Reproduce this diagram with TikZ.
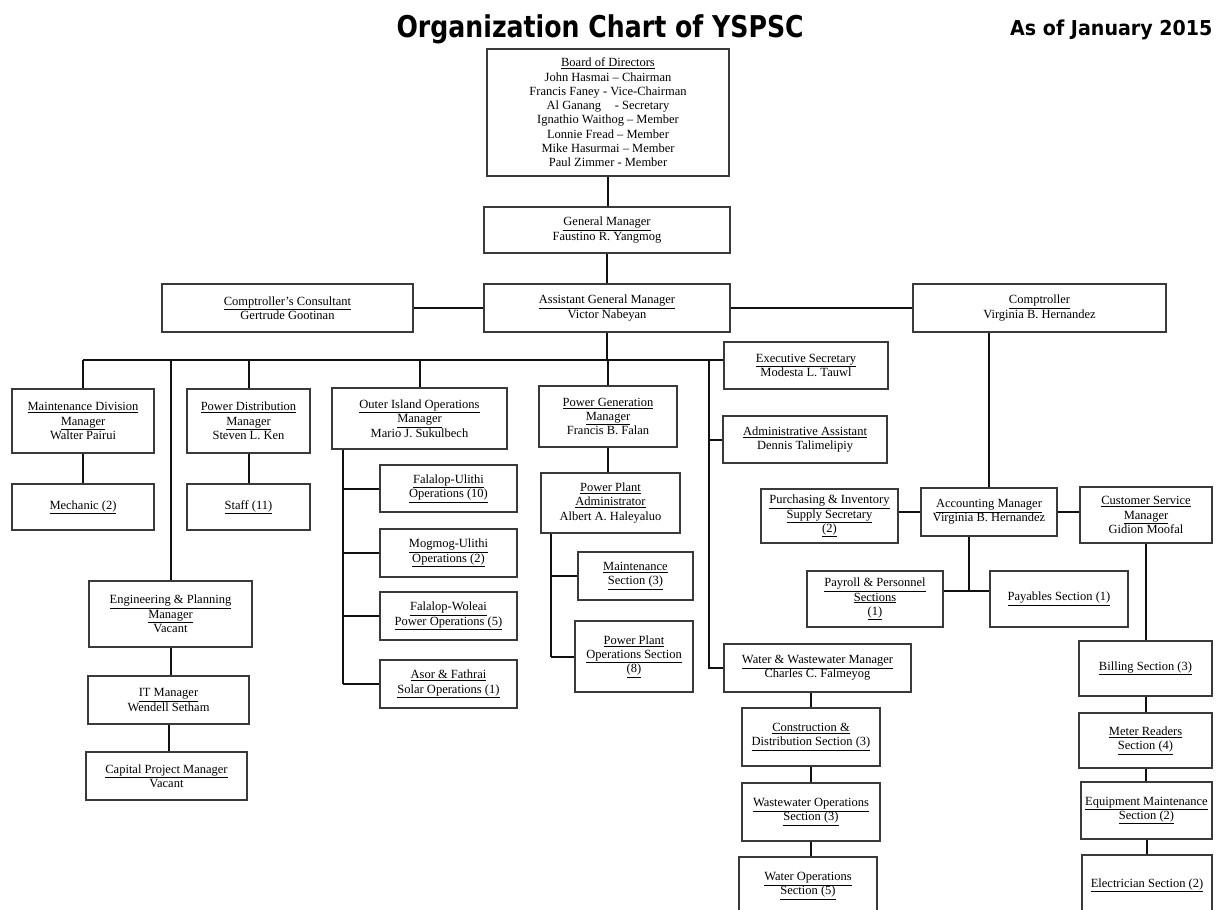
\documentclass[tikz,border=0pt]{standalone}
\usepackage{fontspec}
\usepackage{xcolor}
\usepackage{tikz}
\usetikzlibrary{positioning,calc}
\setmainfont{Liberation Serif}
\setsansfont{DejaVu Sans}
\newfontfamily\titlefont{DejaVu Sans}[FakeStretch=0.84]
\newfontfamily\datefont{DejaVu Sans}[FakeStretch=0.93]
\definecolor{BoxEdge}{HTML}{3A3A3A}
\definecolor{LinkDark}{HTML}{111111}
\newcommand{\hd}[1]{\underline{#1}}

\begin{document}
\begin{tikzpicture}[x=1pt, y=-1pt,
    orgbox/.style={draw=BoxEdge, line width=1.2pt, align=center, inner sep=1pt,
      font=\fontsize{12.5}{14.3}\selectfont},
    wh/.style 2 args={minimum width=#1pt, minimum height=#2pt},
    link/.style={draw=LinkDark, line width=2pt}]
  \useasboundingbox (0,0) rectangle (1218,910);

  % heading
  \node[anchor=base west, font=\titlefont\bfseries\fontsize{30}{32}\selectfont]
    (title) at (393,37) {Organization Chart of YSPSC};
  \node[anchor=base east, font=\datefont\bfseries\fontsize{20.5}{22}\selectfont]
    (asof) at (1216,35) {As of January 2015};

  % top of the chart
  \node[orgbox, wh={242}{127}] (board) at (608,112.5) {\hd{Board of Directors}\\
    John Hasmai -- Chairman\\ Francis Faney - Vice-Chairman\\
    Al Ganang\hspace{1.1em}- Secretary\\ Ignathio Waithog -- Member\\
    Lonnie Fread -- Member\\ Mike Hasurmai -- Member\\ Paul Zimmer - Member};
  \node[orgbox, wh={246}{46}] (gm) at (607,230) {\hd{General Manager}\\ Faustino R. Yangmog};
  \node[orgbox, wh={246}{48}] (agm) at (607,308) {\hd{Assistant General Manager}\\ Victor Nabeyan};
  \node[orgbox, wh={251}{48}] (ccons) at (287.5,308) {\hd{Comptroller's Consultant}\\ Gertrude Gootinan};
  \node[orgbox, wh={253}{48}] (comp) at (1039.5,308) {\hd{Comptroller}\\ Virginia B. Hernandez};

  % left divisions
  \node[orgbox, wh={142}{64}] (mdm) at (83,421) {\hd{Maintenance Division}\\ \hd{Manager}\\ Walter Pairui};
  \node[orgbox, wh={142}{46}] (mech) at (83,507) {\hd{Mechanic (2)}};
  \node[orgbox, wh={123}{64}] (pdm) at (248.5,421) {\hd{Power Distribution}\\ \hd{Manager}\\ Steven L. Ken};
  \node[orgbox, wh={123}{46}] (staff) at (248.5,507) {\hd{Staff (11)}};
  \node[orgbox, wh={163}{66}] (eng) at (170.5,614) {\hd{Engineering \& Planning}\\ \hd{Manager}\\ Vacant};
  \node[orgbox, wh={161}{48}] (itm) at (168.5,700) {\hd{IT Manager}\\ Wendell Setham};
  \node[orgbox, wh={161}{48}] (cpm) at (166.5,776) {\hd{Capital Project Manager}\\ Vacant};

  % outer islands
  \node[orgbox, wh={175}{61}] (oiom) at (419.5,418.5) {\hd{Outer Island Operations}\\ \hd{Manager}\\ Mario J. Sukulbech};
  \node[orgbox, wh={137}{47}] (fu) at (448.5,488.5) {\hd{Falalop-Ulithi}\\ \hd{Operations (10)}};
  \node[orgbox, wh={137}{48}] (mu) at (448.5,553) {\hd{Mogmog-Ulithi}\\ \hd{Operations (2)}};
  \node[orgbox, wh={137}{48}] (fw) at (448.5,616) {\hd{Falalop-Woleai}\\ \hd{Power Operations (5)}};
  \node[orgbox, wh={137}{48}] (asor) at (448.5,684) {\hd{Asor \& Fathrai}\\ \hd{Solar Operations (1)}};

  % power generation
  \node[orgbox, wh={138}{61}] (pgm) at (608,416.5) {\hd{Power Generation}\\ \hd{Manager}\\ Francis B. Falan};
  \node[orgbox, wh={139}{60}] (ppa) at (610.5,503) {\hd{Power Plant}\\ \hd{Administrator}\\ Albert A. Haleyaluo};
  \node[orgbox, wh={115}{48}] (mnt) at (635.5,576) {\hd{Maintenance}\\ \hd{Section (3)}};
  \node[orgbox, wh={118}{71}] (ppos) at (634,656.5) {\hd{Power Plant}\\ \hd{Operations Section}\\ \hd{(8)}};

  % staff and water
  \node[orgbox, wh={164}{47}] (exs) at (806,365.5) {\hd{Executive Secretary}\\ Modesta L. Tauwl};
  \node[orgbox, wh={164}{47}] (adm) at (805,439.5) {\hd{Administrative Assistant}\\ Dennis Talimelipiy};
  \node[orgbox, wh={187}{48}] (wwm) at (817.5,668) {\hd{Water \& Wastewater Manager}\\ Charles C. Falmeyog};
  \node[orgbox, wh={138}{58}] (cds) at (811,737) {\hd{Construction \&}\\ \hd{Distribution Section (3)}};
  \node[orgbox, wh={138}{58}] (wwo) at (811,812) {\hd{Wastewater Operations}\\ \hd{Section (3)}};
  \node[orgbox, wh={138}{58}] (wop) at (808,886) {\hd{Water Operations}\\ \hd{Section (5)}};

  % accounting and customers
  \node[orgbox, wh={136}{48}] (acm) at (989,512) {\hd{Accounting Manager}\\ Virginia B. Hernandez};
  \node[orgbox, wh={137}{54}] (pis) at (829.5,516) {\hd{Purchasing \& Inventory}\\ \hd{Supply Secretary}\\ \hd{(2)}};
  \node[orgbox, wh={132}{56}] (csm) at (1146,515) {\hd{Customer Service}\\ \hd{Manager}\\ Gidion Moofal};
  \node[orgbox, wh={136}{56}] (pps) at (875,599) {\hd{Payroll \& Personnel}\\ \hd{Sections}\\ \hd{(1)}};
  \node[orgbox, wh={138}{56}] (pay) at (1059,599) {\hd{Payables Section (1)}};
  \node[orgbox, wh={133}{55}] (bil) at (1145.5,668.5) {\hd{Billing Section (3)}};
  \node[orgbox, wh={133}{55}] (mtr) at (1145.5,740.5) {\hd{Meter Readers}\\ \hd{Section (4)}};
  \node[orgbox, wh={131}{57}] (eqm) at (1146.5,810.5) {\hd{Equipment Maintenance}\\ \hd{Section (2)}};
  \node[orgbox, wh={130}{60}] (ele) at (1147,885) {\hd{Electrician Section (2)}};

  % connectors
  \coordinate (bus) at (83,360);
  \coordinate (sidebar) at (709,360);
  \coordinate (oiotop) at ($(oiom.south west)+(12,0)$);
  \coordinate (pptop) at ($(ppa.south west)+(11,0)$);
  \coordinate (acsplit) at (969,591);

  \draw[link] (board.south) -- (board.south |- gm.north);
  \draw[link] (gm.south) -- (agm.north);
  \draw[link] (ccons.east) -- (agm.west);
  \draw[link] (agm.east) -- (comp.west);
  \draw[link] (agm.south) -- (agm.south |- bus);
  \draw[link] (bus) -- (exs.west |- bus);
  \foreach \n in {mdm,pdm,oiom,pgm}
    \draw[link] (\n.north) -- (\n.north |- bus);
  \draw[link] (bus -| eng.north) -- (eng.north);
  \draw[link] (mdm) -- (mech);
  \draw[link] (pdm) -- (staff);
  \draw[link] (eng.south) -- (eng.south |- itm.north);
  \draw[link] (itm.south) -- (itm.south |- cpm.north);

  \draw[link] (oiotop) -- (oiotop |- asor.west);
  \foreach \s in {fu,mu,fw,asor}
    \draw[link] (\s.west) -- (\s.west -| oiotop);
  \draw[link] (pgm.south) -- (pgm.south |- ppa.north);
  \draw[link] (pptop) -- (pptop |- ppos.west);
  \foreach \s in {mnt,ppos}
    \draw[link] (\s.west) -- (\s.west -| pptop);

  \draw[link] (sidebar) |- (wwm.west);
  \draw[link] (adm.west) -- (adm.west -| sidebar);
  \draw[link] (cds.north) -- (cds.north |- wwm.south);
  \draw[link] (cds.south) -- (cds.south |- wwo.north);
  \draw[link] (wwo.south) -- (wwo.south |- wop.north);

  \draw[link] (acm.north) -- (acm.north |- comp.south);
  \draw[link] (acm.west) -- (acm.west -| pis.east);
  \draw[link] (acm.east) -- (acm.east -| csm.west);
  \draw[link] (acm.south -| acsplit) -- (acsplit);
  \draw[link] (pps.east |- acsplit) -- (pay.west |- acsplit);
  \draw[link] (csm.south) -- (csm.south |- bil.north);
  \draw[link] (bil.south) -- (bil.south |- mtr.north);
  \draw[link] (mtr.south) -- (mtr.south |- eqm.north);
  \draw[link] (eqm.south) -- (eqm.south |- ele.north);
\end{tikzpicture}
\end{document}
